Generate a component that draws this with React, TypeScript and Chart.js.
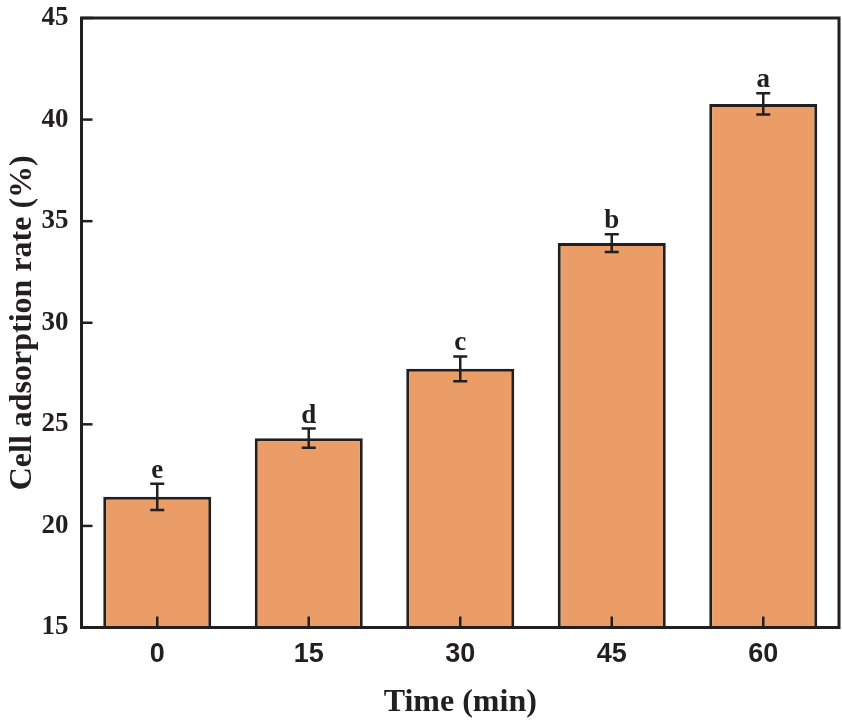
import React, { useEffect, useRef } from "react";
import { Chart, registerables } from "chart.js";

Chart.register(...registerables);

const categories = ["0", "15", "30", "45", "60"];
const values = [21.43, 24.32, 27.73, 33.92, 40.77];
const errors = [0.65, 0.47, 0.61, 0.44, 0.52];
const letters = ["e", "d", "c", "b", "a"];
const yTicks = [15, 20, 25, 30, 35, 40, 45];

const DARK = "#231F20";
const FILL = "#EA9D66";
const SERIF = "'Liberation Serif', 'Times New Roman', serif";
const SANS = "'Liberation Sans', Arial, sans-serif";

const decorPlugin = {
  id: "decor",
  afterDatasetsDraw(chart: any) {
    const { ctx, chartArea: a, scales } = chart;
    const xs = scales.x;
    const ys = scales.y;
    ctx.save();
    ctx.strokeStyle = DARK;
    ctx.lineCap = "butt";
    ctx.lineWidth = 2.5;
    values.forEach((v, i) => {
      const cx = xs.getPixelForValue(i);
      const top = ys.getPixelForValue(v + errors[i]);
      const bot = ys.getPixelForValue(v - errors[i]);
      ctx.beginPath();
      ctx.moveTo(cx, top);
      ctx.lineTo(cx, bot);
      ctx.moveTo(cx - 7, top);
      ctx.lineTo(cx + 7, top);
      ctx.moveTo(cx - 7, bot);
      ctx.lineTo(cx + 7, bot);
      ctx.stroke();
    });
    categories.forEach((_, i) => {
      const cx = xs.getPixelForValue(i);
      ctx.beginPath();
      ctx.moveTo(cx, a.bottom);
      ctx.lineTo(cx, a.bottom - 11);
      ctx.stroke();
    });
    yTicks.forEach((t) => {
      const py = ys.getPixelForValue(t);
      ctx.beginPath();
      ctx.moveTo(a.left, py);
      ctx.lineTo(a.left + 11, py);
      ctx.stroke();
    });
    ctx.lineWidth = 3;
    ctx.strokeRect(a.left, a.top, a.right - a.left, a.bottom - a.top);
    ctx.fillStyle = DARK;
    ctx.font = `bold 27px ${SERIF}`;
    ctx.textAlign = "center";
    ctx.textBaseline = "alphabetic";
    values.forEach((v, i) => {
      const cx = xs.getPixelForValue(i);
      const top = ys.getPixelForValue(v + errors[i]);
      ctx.fillText(letters[i], cx, top - 6);
    });
    ctx.restore();
  },
};

export default function App() {
  const ref = useRef<HTMLCanvasElement>(null);
  useEffect(() => {
    if (!ref.current) return;
    const chart = new Chart(ref.current, {
      type: "bar",
      data: {
        labels: categories,
        datasets: [
          {
            data: values,
            backgroundColor: FILL,
            borderColor: DARK,
            borderWidth: 3,
            borderSkipped: false,
            categoryPercentage: 1,
            barPercentage: 0.713,
          },
        ],
      },
      options: {
        responsive: false,
        animation: false,
        devicePixelRatio: 1,
        layout: { padding: { top: 18, right: 3, bottom: 0, left: 0 } },
        plugins: { legend: { display: false }, tooltip: { enabled: false } },
        scales: {
          x: {
            grid: { display: false, drawTicks: false },
            border: { display: false },
            ticks: {
              color: DARK,
              padding: 11,
              font: { family: SANS, weight: "bold", size: 27 },
            },
            title: {
              display: true,
              text: "Time (min)",
              color: DARK,
              padding: { top: 0, bottom: 3 },
              font: { family: SERIF, weight: "bold", size: 32 },
            },
            afterFit: (s: any) => {
              s.height = 97.5;
              s.paddingLeft = 0;
              s.paddingRight = 0;
            },
          },
          y: {
            min: 15,
            max: 45,
            grid: { display: false, drawTicks: false },
            border: { display: false },
            ticks: {
              stepSize: 5,
              color: DARK,
              padding: 13,
              font: { family: SERIF, weight: "bold", size: 27 },
            },
            title: {
              display: true,
              text: "Cell adsorption rate (%)",
              color: DARK,
              padding: { top: 4, bottom: 0 },
              font: { family: SERIF, weight: "bold", size: 32 },
            },
            afterFit: (s: any) => {
              s.width = 81.5;
              s.paddingTop = 0;
              s.paddingBottom = 0;
            },
          },
        },
      },
      plugins: [decorPlugin],
    });
    return () => chart.destroy();
  }, []);
  return (
    <div style={{ position: "absolute", left: 0, top: 0, width: 842, height: 725, background: "#fff" }}>
      <canvas ref={ref} width={842} height={725} style={{ display: "block" }} />
    </div>
  );
}
